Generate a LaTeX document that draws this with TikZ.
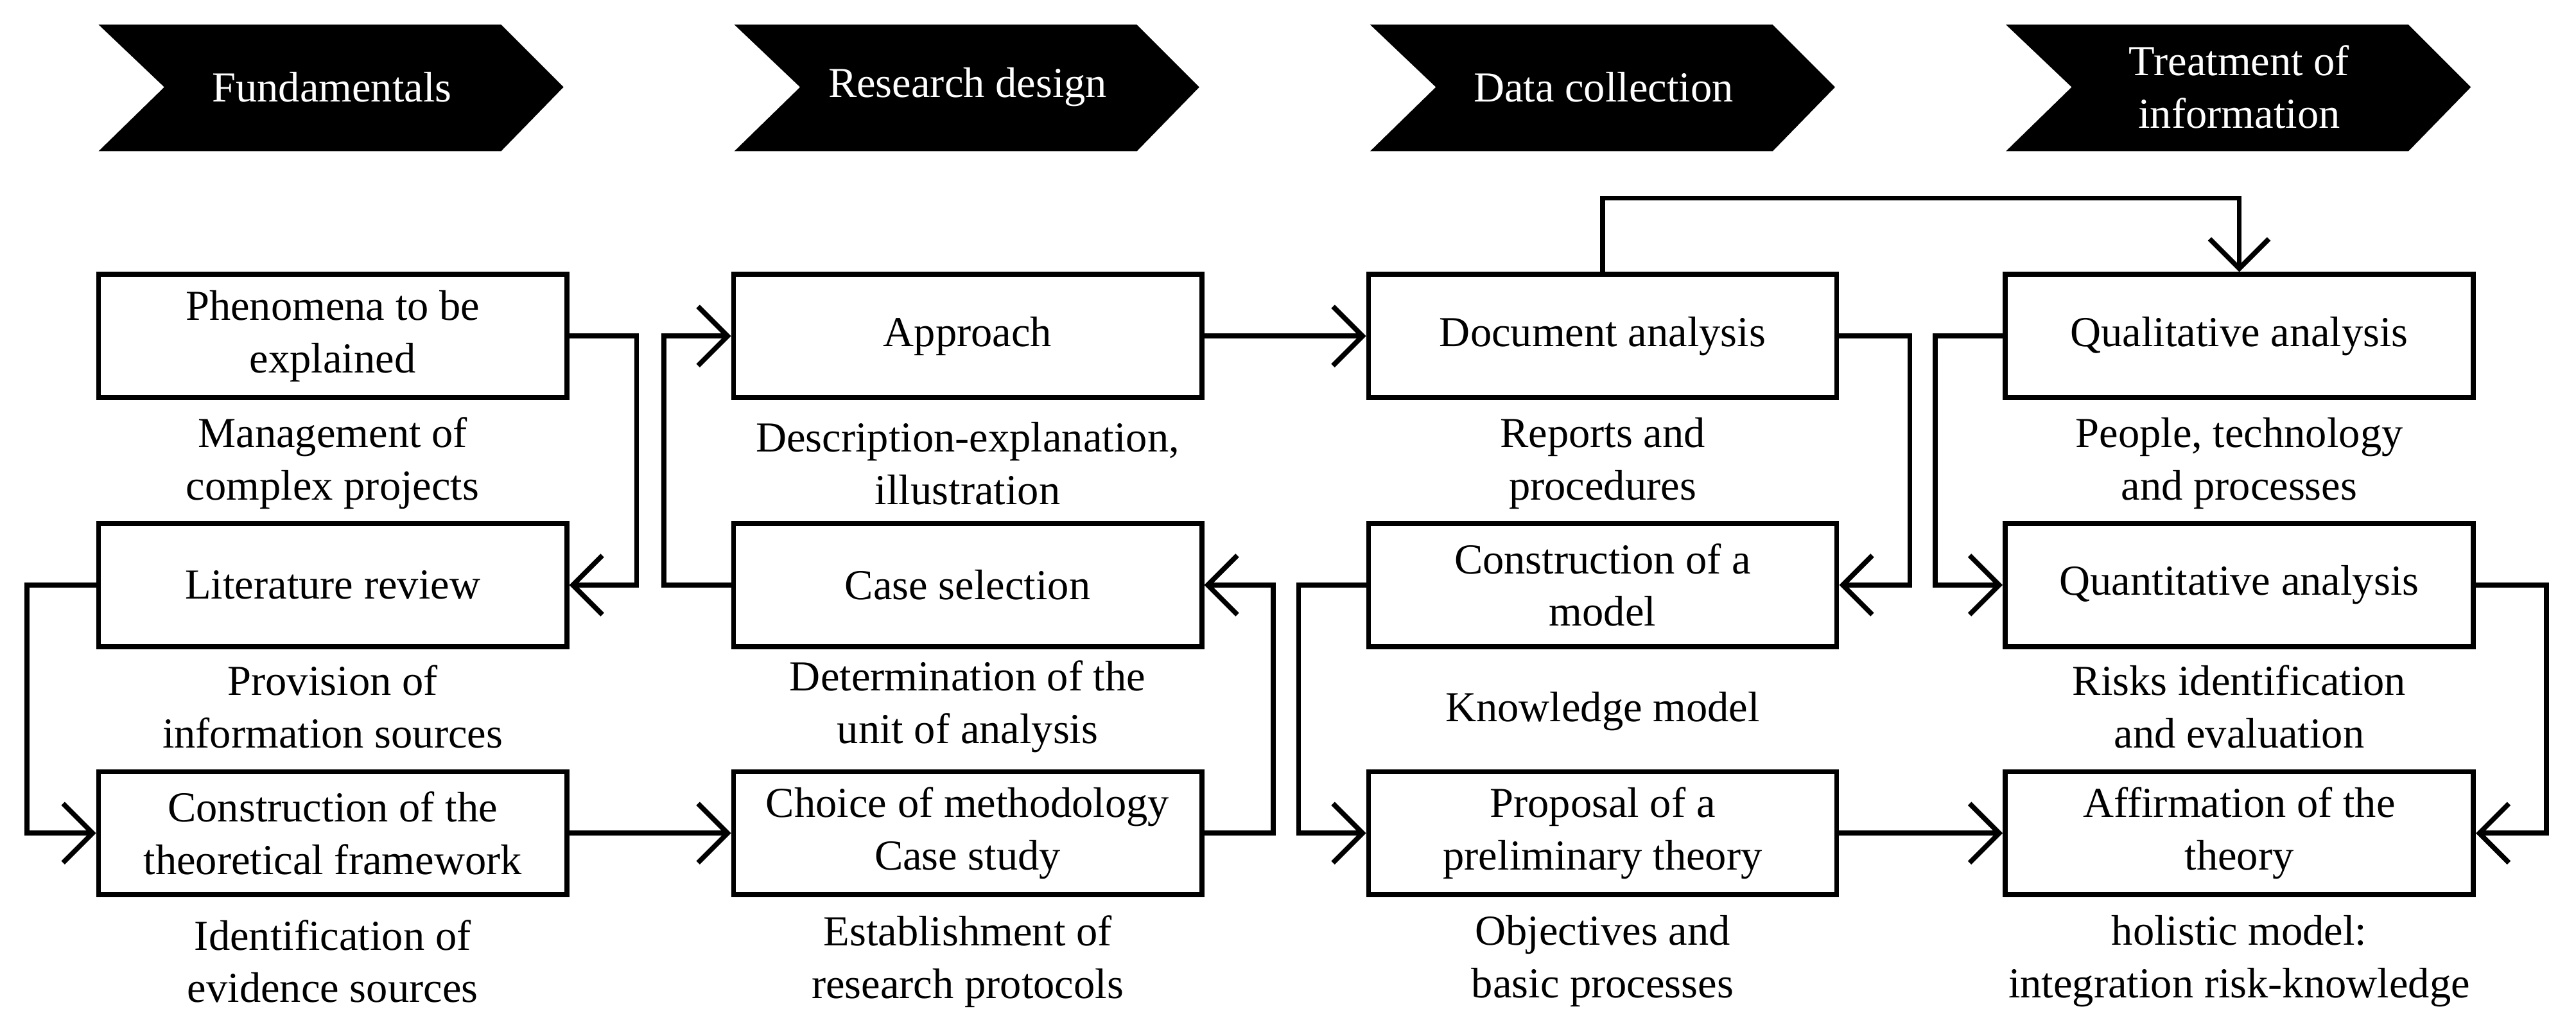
\documentclass[tikz,border=0pt]{standalone}
\usepackage{fontspec}
\setmainfont{Liberation Serif}
\usetikzlibrary{arrows.meta}
\begin{document}
\begin{tikzpicture}[x=0.5pt,y=-0.5pt,
  box/.style={draw,line width=1.5pt,minimum width=142.5pt,minimum height=37.5pt,align=center,inner sep=0pt,font=\fontsize{13}{16}\selectfont},
  lab/.style={align=center,font=\fontsize{13}{16}\selectfont,inner sep=0pt},
  chev/.style={fill=black},
  ctext/.style={text=white,align=center,font=\fontsize{13}{16}\selectfont},
  con/.style={line width=1.5pt,-{Straight Barb[length=9pt,width=18pt,line width=1.5pt]}},
  plain/.style={line width=1.5pt}]
\useasboundingbox (0,0) rectangle (1568,629);
% chevrons
\foreach \x/\t [count=\i] in {60/Fundamentals,447/Research design,834/Data collection,1221/{Treatment of\\information}}{
  \fill (\x,15) -- (\x+245,15) -- (\x+283,53) -- (\x+245,92) -- (\x,92) -- (\x+40,53) -- cycle;
  \node[ctext] (ch\i) at (\x+142,53) {\t};
}
% boxes
\node[box] (phen) at (202.5,204.5) {Phenomena to be\\explained};
\node[box] (lit) at (202.5,356) {Literature review};
\node[box] (cons) at (202.5,507) {Construction of the\\theoretical framework};
\node[box] (appr) at (589,204.5) {Approach};
\node[box] (case) at (589,356) {Case selection};
\node[box] (choice) at (589,507) {Choice of methodology\\Case study};
\node[box] (doc) at (975.5,204.5) {Document analysis};
\node[box] (model) at (975.5,356) {Construction of a\\model};
\node[box] (prop) at (975.5,507) {Proposal of a\\preliminary theory};
\node[box] (qual) at (1363,204.5) {Qualitative analysis};
\node[box] (quant) at (1363,356) {Quantitative analysis};
\node[box] (aff) at (1363,507) {Affirmation of the\\theory};
% labels
\node[lab] (l1) at (202.5,282) {Management of\\complex projects};
\node[lab] (l2) at (202.5,430) {Provision of\\information sources};
\node[lab] (l3) at (202.5,585) {Identification of\\evidence sources};
\node[lab] (l4) at (589,282) {Description-explanation,\\illustration};
\node[lab] (l5) at (589,430) {Determination of the\\unit of analysis};
\node[lab] (l6) at (589,585) {Establishment of\\research protocols};
\node[lab] (l7) at (975.5,282) {Reports and\\procedures};
\node[lab] (l8) at (975.5,433) {Knowledge model};
\node[lab] (l9) at (975.5,585) {Objectives and\\basic processes};
\node[lab] (l10) at (1363,282) {People, technology\\and processes};
\node[lab] (l11) at (1363,430) {Risks identification\\and evaluation};
\node[lab] (l12) at (1363,585) {holistic model:\\integration risk-knowledge};
% connectors
\draw[con] (phen.east) -- ++(41,0) |- (lit.east);
\draw[con] (lit.west) -- ++(-42,0) |- (cons.west);
\draw[con] (cons) -- (choice);
\draw[con] (choice.east) -- ++(42,0) |- (case.east);
\draw[con] (case.west) -- ++(-41,0) |- (appr.west);
\draw[con] (appr) -- (doc);
\draw[con] (doc.north) -- ++(0,-45) -| (qual.north);
\draw[con] (doc.east) -- ++(43,0) |- (model.east);
\draw[con] (model.west) -- ++(-41,0) |- (prop.west);
\draw[con] (prop) -- (aff);
\draw[con] (qual.west) -- ++(-41,0) |- (quant.west);
\draw[con] (quant.east) -- ++(43,0) |- (aff.east);
\end{tikzpicture}
\end{document}
